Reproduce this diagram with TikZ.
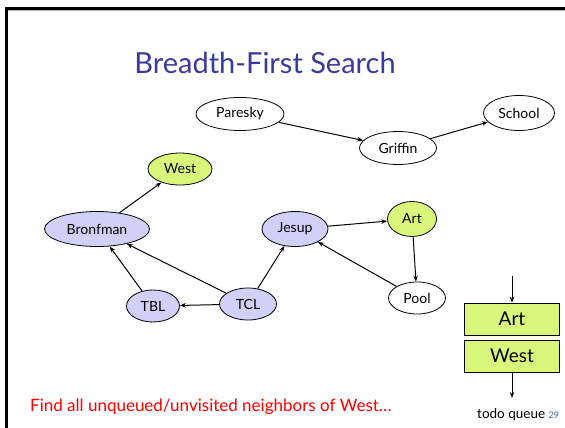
\documentclass[tikz,border=0pt]{standalone}
\usepackage{fontspec}
\setmainfont{Lato}
\usetikzlibrary{shapes.geometric,arrows.meta}
\definecolor{titleblue}{HTML}{3B3B9B}
\definecolor{lime}{HTML}{D9F77A}
\definecolor{lav}{HTML}{D0D0F8}
\definecolor{numblue}{HTML}{3B5BBB}
\tikzset{
  vtx/.style={ellipse, draw=black, line width=0.8pt, inner sep=0pt, font=\fontsize{14}{16}\selectfont},
  done/.style={vtx, fill=lav},
  queued/.style={vtx, fill=lime},
  plain/.style={vtx, fill=white},
  edge/.style={line width=1pt, -{Stealth[length=6pt,width=4.5pt]}},
  qbox/.style={draw=black, line width=0.8pt, fill=lime, minimum width=95pt, minimum height=32pt, inner sep=0pt, font=\fontsize{19}{22}\selectfont}
}
\begin{document}
\begin{tikzpicture}[x=1pt,y=-1pt]
\useasboundingbox (0,0) rectangle (565,428);
% frame
\draw[gray!60, line width=1pt] (7,11) -- (565,11);
\draw[black, line width=3pt] (6,428) -- (6,9) -- (565,9);
% title
\node[text=titleblue, font=\fontsize{29}{34}\selectfont] (title) at (265,63) {Breadth-First Search};
% vertices
\node[plain, minimum width=88pt, minimum height=33pt] (paresky) at (240,114) {Paresky};
\node[plain, minimum width=77pt, minimum height=33pt] (griffin) at (398,148) {Griffin};
\node[plain, minimum width=71pt, minimum height=35pt] (school) at (519,113) {School};
\node[queued, minimum width=64pt, minimum height=32pt] (west) at (180,169) {West};
\node[done, minimum width=105pt, minimum height=35pt] (bronfman) at (97,229) {Bronfman};
\node[done, minimum width=66pt, minimum height=35pt] (jesup) at (295,229) {Jesup};
\node[done, minimum width=53pt, minimum height=32pt] (tbl) at (153,306) {TBL};
\node[done, minimum width=57pt, minimum height=32pt] (tcl) at (248,304) {TCL};
\node[queued, minimum width=49pt, minimum height=35pt] (art) at (412,219) {Art};
\node[plain, minimum width=57pt, minimum height=32pt] (pool) at (417,298) {Pool};
% edges
\draw[edge] (paresky) -- (griffin);
\draw[edge] (griffin) -- (school);
\draw[edge] (bronfman) -- (west);
\draw[edge] (tbl) -- (bronfman);
\draw[edge] (tcl) -- (bronfman);
\draw[edge] (tcl) -- (tbl);
\draw[edge] (tcl) -- (jesup);
\draw[edge] (jesup) -- (art);
\draw[edge] (art) -- (pool);
\draw[edge] (pool) -- (jesup);
% queue
\node[qbox] (qart) at (512,319) {Art};
\node[qbox] (qwest) at (512,356) {West};
\coordinate (qin) at (512,276);
\coordinate (qout) at (512,398);
\draw[edge] (qin) -- (qart);
\draw[edge] (qwest) -- (qout);
\node[font=\fontsize{13.5}{15}\selectfont, anchor=base west, inner sep=0pt] (qlabel) at (477,418) {todo queue};
\node[font=\fontsize{9}{10}\selectfont, text=numblue, anchor=base west, inner sep=0pt] (pnum) at ([xshift=3pt]qlabel.base east) {29};
% caption
\node[text=red, font=\fontsize{17}{20}\selectfont, anchor=base west, inner sep=0pt] (caption) at (30,411) {Find all unqueued/unvisited neighbors of West…};
\end{tikzpicture}
\end{document}
